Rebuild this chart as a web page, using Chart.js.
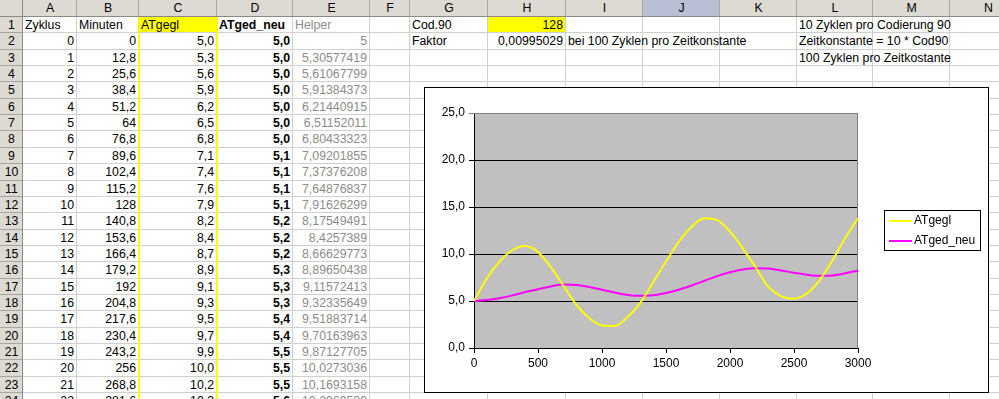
<!DOCTYPE html>
<html>
<head>
<meta charset="utf-8">
<script src="https://cdn.jsdelivr.net/npm/chart.js@4.4.1/dist/chart.umd.min.js"></script>
<style>
  body { margin: 0; background: #fff; width: 999px; height: 399px; overflow: hidden; position: relative;
         font-family: "Liberation Sans", Arial, sans-serif; font-size: 12.3px; }
  .c { position: absolute; white-space: nowrap; overflow: visible; box-sizing: border-box; padding: 0 2px; }
  .ln { position: absolute; }
  #chartBox { position: absolute; left: 424px; top: 87px; width: 565px; height: 306px;
              border: 1px solid #000; box-sizing: border-box; background: #fff; }
  #chartBox canvas { position: absolute; left: 0; top: 0; }
</style>
</head>
<body>
<div id="sheet"></div>
<div id="chartBox"><canvas id="graphique" width="563" height="304"></canvas></div>
<script>
// table cells (as shown)
const colonnes = ['A','B','C','D','E','F','G','H','I','J','K','L','M','N'];
const zyklus = ['0','1','2','3','4','5','6','7','8','9','10','11','12','13','14','15','16','17','18','19','20','21','22'];
const minuten = ['0','12,8','25,6','38,4','51,2','64','76,8','89,6','102,4','115,2','128','140,8','153,6','166,4','179,2','192','204,8','217,6','230,4','243,2','256','268,8','281,6'];
const atgegl = ['5,0','5,3','5,6','5,9','6,2','6,5','6,8','7,1','7,4','7,6','7,9','8,2','8,4','8,7','8,9','9,1','9,3','9,5','9,7','9,9','10,0','10,2','10,3'];
const atgedNeu = ['5,0','5,0','5,0','5,0','5,0','5,0','5,0','5,1','5,1','5,1','5,1','5,2','5,2','5,2','5,3','5,3','5,3','5,4','5,4','5,5','5,5','5,5','5,6'];
const helper = ['5','5,30577419','5,61067799','5,91384373','6,21440915','6,51152011','6,80433323','7,09201855','7,37376208','7,64876837','7,91626299','8,17549491','8,4257389','8,66629773','8,89650438','9,11572413','9,32335649','9,51883714','9,70163963','9,87127705','10,0273036','10,1693158','10,2969539'];

// chart series (minutes -> value)
const minutesChart = [0,100,200,300,400,500,600,700,800,900,1000,1100,1200,1300,1400,1500,1600,1700,1800,1900,2000,2100,2200,2300,2400,2500,2600,2700,2800,2900,3000];
const serieGegl = [5.0,7.4,9.2,10.4,10.85,10.2,8.6,6.6,4.6,3.2,2.4,2.35,3.3,4.8,7.0,9.2,11.3,12.9,13.8,13.6,12.4,10.6,8.6,6.5,5.5,5.25,5.8,7.2,9.3,11.7,13.8];
const serieNeu = [5.0,5.1,5.3,5.6,5.95,6.25,6.55,6.76,6.7,6.5,6.2,5.9,5.65,5.55,5.6,5.85,6.2,6.65,7.15,7.65,8.05,8.35,8.48,8.45,8.25,8.0,7.8,7.68,7.72,7.95,8.25];
const yTicks = [0,5,10,15,20,25];

// ---- spreadsheet grid ----
const sheet = document.getElementById('sheet');
const bords = [0,23,77,139,217,293,370,410,488,566,643,720,797,873,950,1027];
const hautRang = 16.35;
const topRang = r => Math.round(17 + (r - 1) * hautRang);

function ajout(cls, css, txt) {
    const d = document.createElement('div');
    d.className = cls;
    Object.assign(d.style, css);
    if (txt !== undefined) d.textContent = txt;
    sheet.appendChild(d);
    return d;
}

// header backgrounds
ajout('ln', { left: '0px', top: '0px', width: '999px', height: '17px', background: '#dcdad2' });
ajout('ln', { left: '0px', top: '17px', width: '23px', height: '382px', background: '#dcdad2' });
ajout('ln', { left: '643px', top: '0px', width: '77px', height: '17px', background: '#b9c0d6' });
// yellow fills
ajout('ln', { left: '139px', top: topRang(1) + 'px', width: '78px', height: (topRang(2) - topRang(1)) + 'px', background: '#ffff00' });
ajout('ln', { left: '488px', top: topRang(1) + 'px', width: '78px', height: (topRang(2) - topRang(1)) + 'px', background: '#ffff00' });

// grid lines
for (let r = 2; r <= 25; r++) {
    ajout('ln', { left: '23px', top: (topRang(r) - 1) + 'px', width: '976px', height: '1px', background: '#d0d0d0' });
    ajout('ln', { left: '0px', top: (topRang(r) - 1) + 'px', width: '23px', height: '1px', background: '#a8a6a0' });
}
for (let i = 1; i < bords.length - 1; i++) {
    ajout('ln', { left: (bords[i] - 1) + 'px', top: '17px', width: '1px', height: '382px', background: '#d0d0d0' });
    ajout('ln', { left: (bords[i] - 1) + 'px', top: '0px', width: '1px', height: '17px', background: '#a8a6a0' });
}
ajout('ln', { left: '0px', top: '16px', width: '999px', height: '1px', background: '#8c8a84' });
ajout('ln', { left: '22px', top: '0px', width: '1px', height: '399px', background: '#8c8a84' });
// yellow borders of column C
ajout('ln', { left: '138px', top: '17px', width: '2px', height: '382px', background: '#ffff00' });
ajout('ln', { left: '216px', top: '17px', width: '2px', height: '382px', background: '#ffff00' });

// column letters
colonnes.forEach((n, i) => {
    ajout('c', { left: bords[i + 1] + 'px', top: '0px', width: (bords[i + 2] - bords[i + 1]) + 'px', height: '17px',
                 lineHeight: '17px', textAlign: 'center' }, n);
});
// row numbers
for (let r = 1; r <= 24; r++) {
    ajout('c', { left: '0px', top: topRang(r) + 'px', width: '23px', height: hautRang + 'px',
                 lineHeight: hautRang + 'px', textAlign: 'center' }, String(r));
}

function cell(col, r, txt, opts = {}) {
    const i = colonnes.indexOf(col) + 1;
    const css = { top: topRang(r) + 'px', height: hautRang + 'px', lineHeight: hautRang + 'px',
                  color: opts.color || '#000', fontWeight: opts.bold ? 'bold' : 'normal' };
    css.left = bords[i] + 'px';
    if (!opts.left) {
        css.width = (bords[i + 1] - bords[i] - 1) + 'px';
        css.textAlign = 'right';
    }
    ajout('c', css, txt);
}

cell('A', 1, 'Zyklus', { left: true });
cell('B', 1, 'Minuten', { left: true });
cell('C', 1, 'ATgegl', { left: true });
cell('D', 1, 'ATged_neu', { left: true, bold: true });
cell('E', 1, 'Helper', { left: true, color: '#8c8c8c' });
for (let k = 0; k < zyklus.length; k++) {
    const r = k + 2;
    cell('A', r, zyklus[k]);
    cell('B', r, minuten[k]);
    cell('C', r, atgegl[k]);
    cell('D', r, atgedNeu[k], { bold: true });
    cell('E', r, helper[k], { color: '#8c8c8c' });
}
cell('G', 1, 'Cod.90', { left: true });
cell('H', 1, '128');
cell('G', 2, 'Faktor', { left: true });
cell('H', 2, '0,00995029');
cell('I', 2, 'bei 100 Zyklen pro Zeitkonstante', { left: true });
cell('L', 1, '10 Zyklen pro Codierung 90', { left: true });
cell('L', 2, 'Zeitkonstante = 10 * Cod90', { left: true });
cell('L', 3, '100 Zyklen pro Zeitkostante', { left: true });

// ---- chart ----
const fondGris = {
    id: 'fondGris',
    beforeDraw(chart) {
        const { ctx, chartArea: a } = chart;
        ctx.save();
        ctx.fillStyle = '#c0c0c0';
        ctx.fillRect(a.left, a.top, a.right - a.left, a.bottom - a.top);
        ctx.restore();
    },
    beforeDatasetsDraw(chart) {
        const { ctx, chartArea: a } = chart;
        ctx.save();
        ctx.strokeStyle = '#808080';
        ctx.lineWidth = 1;
        ctx.beginPath();
        ctx.moveTo(a.left, a.top + 0.5);
        ctx.lineTo(a.right - 0.5, a.top + 0.5);
        ctx.lineTo(a.right - 0.5, a.bottom);
        ctx.stroke();
        ctx.restore();
    }
};

const legende = {
    id: 'legende',
    afterDraw(chart) {
        const ctx = chart.ctx;
        const x = 459, y = 122, w = 96, h = 40;
        ctx.save();
        ctx.fillStyle = '#fff';
        ctx.fillRect(x, y, w, h);
        ctx.strokeStyle = '#000';
        ctx.lineWidth = 1;
        ctx.strokeRect(x + 0.5, y + 0.5, w, h);
        ctx.font = '12px "Liberation Sans", Arial, sans-serif';
        ctx.textBaseline = 'middle';
        chart.data.datasets.forEach((ds, i) => {
            const yy = y + 11 + i * 20;
            ctx.strokeStyle = ds.borderColor;
            ctx.lineWidth = 2;
            ctx.beginPath();
            ctx.moveTo(x + 5, yy);
            ctx.lineTo(x + 28, yy);
            ctx.stroke();
            ctx.fillStyle = '#000';
            ctx.fillText(ds.label, x + 30, yy);
        });
        ctx.restore();
    }
};

const versPoints = (xs, ys) => xs.map((m, i) => ({ x: m, y: ys[i] }));
const fmt = v => v.toFixed(1).replace('.', ',');

new Chart(document.getElementById('graphique'), {
    type: 'line',
    data: {
        datasets: [
            { label: 'ATgegl', data: versPoints(minutesChart, serieGegl), borderColor: '#ffff00', borderWidth: 2,
              pointRadius: 0, cubicInterpolationMode: 'monotone' },
            { label: 'ATged_neu', data: versPoints(minutesChart, serieNeu), borderColor: '#ff00ff', borderWidth: 2,
              pointRadius: 0, cubicInterpolationMode: 'monotone' }
        ]
    },
    options: {
        responsive: false,
        animation: false,
        devicePixelRatio: 1,
        layout: { padding: { left: 0, right: 130, top: 25, bottom: 0 } },
        plugins: { legend: { display: false }, tooltip: { enabled: false } },
        scales: {
            x: {
                type: 'linear', min: 0, max: 3000,
                ticks: { stepSize: 500, color: '#000', padding: 3, maxRotation: 0, callback: v => String(v),
                         font: { family: '"Liberation Sans", Arial, sans-serif', size: 12 } },
                grid: { drawOnChartArea: false, drawTicks: true, tickLength: 5, color: '#000' },
                border: { color: '#000' },
                afterFit: s => { s.height = 44; }
            },
            y: {
                min: 0, max: 25,
                afterBuildTicks: s => { s.ticks = yTicks.map(v => ({ value: v })); },
                ticks: { color: '#000', padding: 4, callback: v => fmt(v),
                         font: { family: '"Liberation Sans", Arial, sans-serif', size: 12 } },
                grid: { tickLength: 5, color: c => (c.tick && c.tick.value === 25 ? '#808080' : '#000') },
                border: { color: '#000' },
                afterFit: s => { s.width = 49; }
            }
        }
    },
    plugins: [fondGris, legende]
});
</script>
</body>
</html>
